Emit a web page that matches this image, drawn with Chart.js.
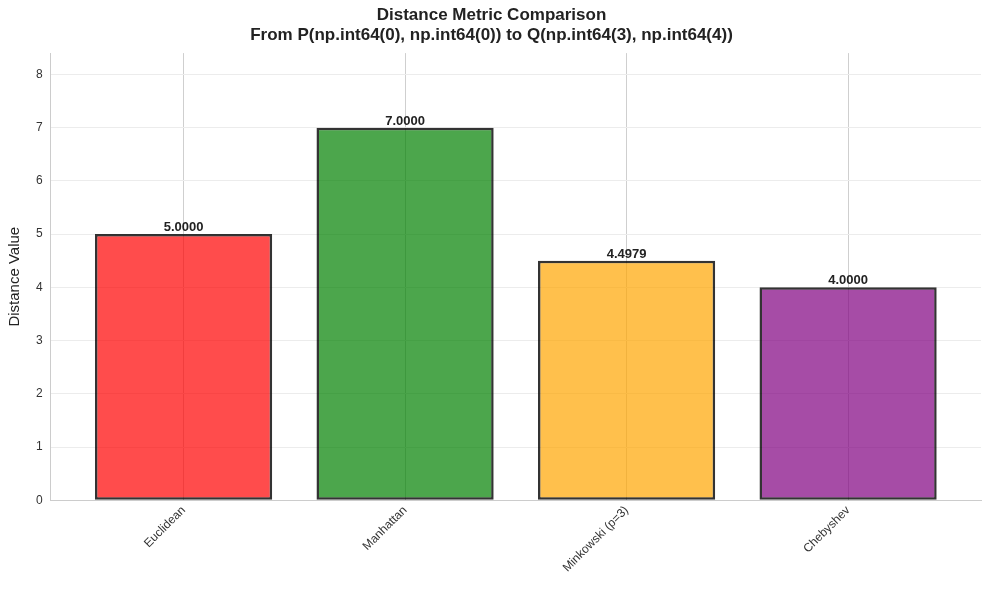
<!DOCTYPE html>
<html><head><meta charset="utf-8">
<script src="https://cdn.jsdelivr.net/npm/chart.js@4"></script>
<style>body{margin:0;background:#fff}#w{width:989px;height:590px}</style>
</head><body><div id="w"><canvas id="c"></canvas></div>
<script>
const categories = ["Euclidean", "Manhattan", "Minkowski (p=3)", "Chebyshev"];
const values = [5.0, 7.0, 4.4979, 4.0];
const colors = ["rgba(255,0,0,0.7)", "rgba(0,128,0,0.7)", "rgba(255,165,0,0.7)", "rgba(128,0,128,0.7)"];
const yTicks = [0,1,2,3,4,5,6,7,8];
const FF = '"Liberation Sans", Arial, sans-serif';

const labelPlugin = {
  id: 'lbl',
  afterDatasetsDraw(chart) {
    const ctx = chart.ctx, meta = chart.getDatasetMeta(0);
    ctx.save();
    ctx.font = 'bold 13px ' + FF;
    ctx.fillStyle = '#222'; ctx.textAlign = 'center'; ctx.textBaseline = 'bottom';
    meta.data.forEach((b, i) => ctx.fillText(values[i].toFixed(4), b.x, b.y));
    ctx.restore();
  }
};

new Chart(document.getElementById('c'), {
  type: 'bar',
  data: { datasets: [{
    data: values.map((v, i) => ({x: i, y: v})),
    backgroundColor: colors,
    borderColor: 'rgba(0,0,0,0.8)', borderWidth: 2.5, borderSkipped: false,
    barPercentage: 0.8, categoryPercentage: 1.0
  }]},
  options: {
    responsive: true, maintainAspectRatio: false, animation: false,
    layout: { padding: { left: 2, right: 8, top: 4, bottom: 12 } },
    plugins: {
      legend: { display: false }, tooltip: { enabled: false },
      title: { display: true, text: ["Distance Metric Comparison", "From P(np.int64(0), np.int64(0)) to Q(np.int64(3), np.int64(4))"],
        color: '#222', font: { size: 17, weight: 'bold', family: FF, lineHeight: 1.15 }, padding: { top: 2, bottom: 8 } }
    },
    scales: {
      x: { type: 'linear', min: -0.6, max: 3.6, offset: false,
        afterBuildTicks: ax => { ax.ticks = categories.map((c, i) => ({value: i})); },
        ticks: { callback: v => categories[v], minRotation: 45, maxRotation: 45, color: '#333',
          font: { size: 12, family: FF } },
        grid: { color: '#cfcfcf', drawTicks: false, offset: false }, border: { color: '#ccc' } },
      y: { min: 0, max: 8.4,
        afterBuildTicks: ax => { ax.ticks = yTicks.map(v => ({value: v})); },
        ticks: { color: '#333', font: { size: 12, family: FF }, padding: 8 },
        grid: { color: '#ececec', drawTicks: false }, border: { color: '#ccc' },
        title: { display: true, text: 'Distance Value', color: '#222', font: { size: 15, family: FF } } }
    }
  },
  plugins: [labelPlugin]
});
</script></body></html>
